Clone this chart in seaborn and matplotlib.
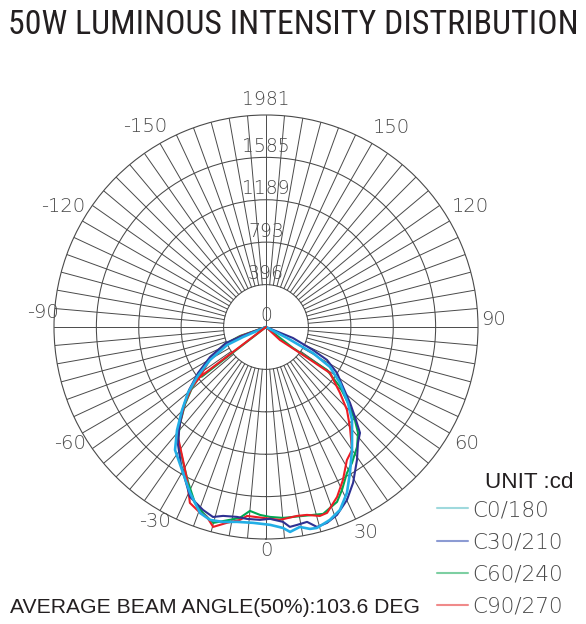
import numpy as np
import matplotlib
matplotlib.use("Agg")
import matplotlib.pyplot as plt
from matplotlib.lines import Line2D
from matplotlib import font_manager
import seaborn as sns

# ---------------- data (angle in degrees, 0 = nadir, + to the right; intensity in cd)
series_names = ["C0/180", "C30/210", "C60/240", "C90/270"]

c0_angle = [-68, -66.5, -65.2, -59.5, -54.1, -49.8, -45.3, -40.8, -36.5, -29.6, -24.6, -19.5,
            -16.2, -12.4, -8.5, -3.8, 1.2, 4.8, 6.7, 9.6, 12.3, 14.2, 18.3, 22.0, 26.0, 29.9,
            35.0, 39.1, 42.8, 47.2, 52.9, 58.0, 61.0, 62.4, 63]
c0_cd = [0, 234, 401, 607, 796, 955, 1103, 1272, 1429, 1569, 1705, 1844,
         1877, 1865, 1841, 1834, 1849, 1884, 1928, 1895, 1931, 1937, 1899, 1844, 1725, 1573,
         1401, 1275, 1183, 1044, 867, 705, 502, 221, 0]

c30_angle = [-70, -69.4, -68.2, -61.8, -55.9, -50.7, -45.7, -40.7, -36.7, -31.6, -24.1, -19.0,
             -15.6, -12.8, -8.7, -5.7, -1.8, 1.2, 5.0, 6.8, 8.9, 11.9, 14.3, 17.3, 20.7, 25.1,
             29.2, 34.4, 38.4, 41.6, 44.7, 47.9, 52.1, 57.1, 61.6, 63.9, 67.8, 68]
c30_cd = [0, 239, 402, 593, 767, 929, 1083, 1245, 1375, 1514, 1739, 1808,
          1843, 1810, 1795, 1802, 1803, 1793, 1828, 1881, 1872, 1861, 1928, 1917, 1877, 1784,
          1668, 1505, 1383, 1323, 1182, 1058, 912, 790, 648, 489, 272, 0]

c60_angle = [-72, -70.9, -67.5, -61.0, -53.4, -50.5, -46.4, -41.6, -37.9, -31.6, -26.7, -22.0,
             -18.7, -15.1, -10.6, -7.8, -5.0, -1.8, 1.2, 5.1, 11.1, 17.0, 19.5, 22.1, 25.0,
             29.0, 32.3, 37.2, 41.0, 43.7, 47.2, 51.0, 54.8, 52.1, 52]
c60_cd = [0, 257, 415, 598, 768, 896, 1044, 1211, 1338, 1480, 1621, 1773,
          1834, 1896, 1833, 1800, 1725, 1757, 1775, 1791, 1799, 1826, 1793, 1764, 1680,
          1560, 1503, 1407, 1311, 1202, 1044, 890, 697, 319, 0]
c60_chord_angle = [-52.3, -52.3]
c60_chord_cd = [0, 760]

c90_angle = [-72, -70.2, -67.0, -61.4, -52.9, -51.0, -46.8, -41.9, -38.7, -32.0, -27.3, -23.4,
             -19.5, -17.3, -14.8, -11.3, -7.7, -5.7, -0.9, 4.1, 9.3, 12.3, 15.9, 18.2, 22.7,
             26.7, 31.3, 35.0, 40.0, 44.3, 48.3, 54.3, 52.6, 47.0, 47]
c90_cd = [0, 248, 406, 585, 773, 890, 1038, 1204, 1316, 1464, 1608, 1791,
          1843, 1858, 1932, 1866, 1819, 1774, 1784, 1807, 1789, 1797, 1836, 1828, 1721,
          1600, 1455, 1402, 1220, 1083, 926, 736, 400, 178, 0]
c90_chord_angle = [-52.9, -52.9]
c90_chord_cd = [0, 773]

radial_ticks = [0, 396, 793, 1189, 1585, 1981]
angle_ticks = [0, 30, -30, 60, -60, 90, -90, 120, -120, 150, -150]

title_text = "50W LUMINOUS INTENSITY DISTRIBUTION"
unit_text = "UNIT :cd"
footer_text = "AVERAGE BEAM ANGLE(50%):103.6 DEG"

# ---------------- style / layout
sns.set_theme(style="white")
plt.rcParams["font.family"] = ["DejaVu Sans"]

W, H = 586, 624
GRID = "#4a4a4a"
line_colors = {"C0/180": "#22aee6", "C30/210": "#2e3192", "C60/240": "#00a651", "C90/270": "#ed1c24"}
legend_colors = {"C0/180": "#9fd9dd", "C30/210": "#8c9bd3", "C60/240": "#7dcfa2", "C90/270": "#f08a8a"}

# angle label positions (layout only): (angle deg, radius px)
label_pos = {0: (0, 223), 30: (25.9, 229), -30: (-29.6, 224), 60: (60, 232), -60: (-59.4, 228),
             90: (91.8, 228), -90: (-93.6, 224), 120: (120.5, 237), -120: (-120.6, 236),
             150: (147.8, 236), -150: (-148.8, 234)}

cx, cy, R = 266, 327, 212
fig = plt.figure(figsize=(W / 100, H / 100), dpi=100)
ax = fig.add_axes([(cx - R) / W, (H - cy - R) / H, 2 * R / W, 2 * R / H], projection="polar")
ax.set_theta_zero_location("S")
ax.set_theta_direction(1)
rmax = radial_ticks[-1]
px2cd = rmax / R

ax.set_xticks([])
ax.set_yticks(radial_ticks[1:-1])
ax.set_yticklabels([])
ax.yaxis.grid(True, color=GRID, lw=0.75)
ax.spines["polar"].set_color(GRID)
ax.spines["polar"].set_linewidth(0.8)

# spokes every 5 degrees
for d in range(0, 360, 5):
    inner = 0 if d % 90 == 0 else radial_ticks[1]
    ax.plot([np.deg2rad(d)] * 2, [inner, rmax], color=GRID, lw=0.7, zorder=1)

# curves
curves = [
    ("C60/240", c60_angle, c60_cd, 1.5),
    ("C90/270", c90_angle, c90_cd, 1.5),
    ("C30/210", c30_angle, c30_cd, 1.5),
    ("C0/180", c0_angle, c0_cd, 1.9),
]
for name, ang, cd, lw in curves:
    sns.lineplot(x=np.deg2rad(ang), y=cd, ax=ax, sort=False, estimator=None,
                 color=line_colors[name], lw=lw, legend=False, zorder=3)
sns.lineplot(x=np.deg2rad(c60_chord_angle), y=c60_chord_cd, ax=ax, sort=False, estimator=None,
             color=line_colors["C60/240"], lw=1.5, legend=False, zorder=3)
sns.lineplot(x=np.deg2rad(c90_chord_angle), y=c90_chord_cd, ax=ax, sort=False, estimator=None,
             color=line_colors["C90/270"], lw=1.5, legend=False, zorder=3)

ax.set_ylim(0, rmax)
ax.set_xlabel("")
ax.set_ylabel("")

# radial labels along the top
for v in radial_ticks:
    off = 55 if v == rmax else 15
    ax.text(np.pi, v + off, str(v), ha="center", va="bottom", fontsize=13.5,
            color="#4a4a4a", fontweight="light", zorder=4)

# angle labels
for a in angle_ticks:
    pa, pr = label_pos[a]
    ax.text(np.deg2rad(pa), pr * px2cd, str(a), ha="center", va="center", fontsize=14,
            color="#4a4a4a", fontweight="light", clip_on=False)

# title: condensed face if available, fitted to the reference width
available = {f.name for f in font_manager.fontManager.ttflist}
title_family = [f for f in ["Liberation Sans Narrow", "Roboto Condensed", "Open Sans Condensed",
                            "Noto Sans Display", "DejaVu Sans"] if f in available]
title = fig.text(8 / W, 1 - 25 / H, title_text, ha="left", va="center", fontsize=30,
                 color="#231f20", family=title_family, fontstretch="condensed",
                 fontweight="normal")
renderer = fig.canvas.get_renderer()
tw = title.get_window_extent(renderer).width
title.set_fontsize(30 * 572 / tw)

fig.text(10 / W, 1 - 613 / H, footer_text, ha="left", va="baseline", fontsize=15.2,
         color="#231f20", family=["Liberation Sans", "DejaVu Sans"])
fig.text(485 / W, 1 - 482 / H, unit_text, ha="left", va="center", fontsize=16.2,
         color="#231f20", family=["Liberation Sans", "DejaVu Sans"])

handles = [Line2D([], [], color=legend_colors[n], lw=1.5) for n in series_names]
fig.legend(handles, series_names, loc="upper left", bbox_to_anchor=(437 / W, 1 - 500 / H),
           frameon=False, handlelength=1.45, handletextpad=0.2,
           labelspacing=0.57, borderpad=0, borderaxespad=0,
           prop={"size": 15.5, "weight": "light"}, labelcolor="#4a4a4a")

fig.savefig("out.png", dpi=100)
